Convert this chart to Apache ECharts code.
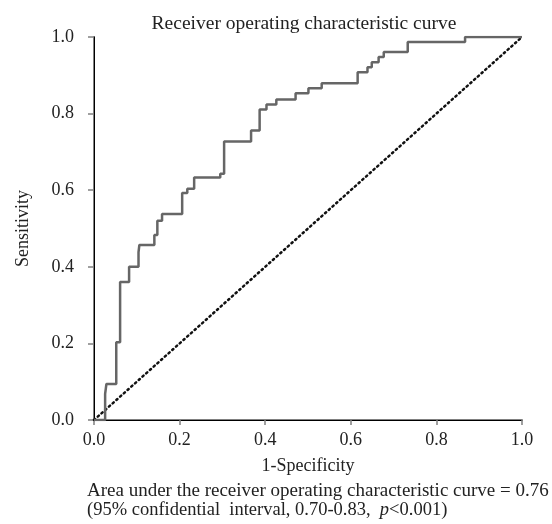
<!DOCTYPE html>
<html>
<head>
<meta charset="utf-8">
<script src="https://cdn.jsdelivr.net/npm/echarts@6/dist/echarts.min.js"></script>
<style>html,body{margin:0;padding:0;background:#fff}#c{width:552px;height:524px}</style>
</head>
<body>
<div id="c"></div>
<script>
// ROC staircase corners: [1-specificity, sensitivity]
const fpr = [0, 0.026, 0.029, 0.052, 0.061, 0.082, 0.104, 0.106, 0.141, 0.148, 0.159, 0.206, 0.218, 0.234, 0.295, 0.304,
  0.367, 0.387, 0.403, 0.426, 0.471, 0.501, 0.532, 0.616, 0.639, 0.649, 0.665, 0.677, 0.733, 0.867, 1.0];
const tpr = [0, 0.068, 0.094, 0.203, 0.36, 0.40, 0.438, 0.457, 0.483, 0.52, 0.538, 0.593, 0.604, 0.633, 0.643, 0.727,
  0.756, 0.811, 0.824, 0.837, 0.853, 0.866, 0.879, 0.908, 0.921, 0.934, 0.948, 0.961, 0.987, 1.0, 1.0];
const chance = [[0, 0], [1, 1]];

const serif = "'Liberation Serif','DejaVu Serif',serif";
const chart = echarts.init(document.getElementById('c'), null, {renderer: 'canvas'});
const lbl = {fontFamily: serif, fontSize: 18, color: '#222'};

chart.setOption({
  backgroundColor: '#fff',
  animation: false,
  title: {
    text: 'Receiver operating characteristic curve',
    left: 299, top: 9, textAlign: 'center',
    textStyle: {fontFamily: serif, fontSize: 19.5, fontWeight: 'normal', color: '#222'}
  },
  grid: {left: 94, right: 30, top: 37, bottom: 104},
  xAxis: [{
    type: 'value', min: 0, max: 1, interval: 0.2,
    name: '1-Specificity', nameLocation: 'middle', nameGap: 37,
    nameTextStyle: lbl,
    axisLine: {lineStyle: {color: '#808080', width: 2}},
    axisTick: {length: 5, lineStyle: {color: '#808080', width: 1.5}},
    axisLabel: Object.assign({margin: 11, formatter: v => v.toFixed(1)}, lbl),
    splitLine: {show: false}
  }, {
    type: 'value', position: 'top', min: 0, max: 1,
    axisLine: {show: true, lineStyle: {color: '#000', width: 1}},
    axisTick: {show: false}, axisLabel: {show: false}, splitLine: {show: false}
  }],
  yAxis: [{
    type: 'value', min: 0, max: 1, interval: 0.2,
    name: 'Sensitivity', nameLocation: 'middle', nameGap: 62,
    nameTextStyle: lbl,
    axisLine: {show: true, lineStyle: {color: '#808080', width: 2}},
    axisTick: {show: true, length: 6, lineStyle: {color: '#808080', width: 1.5}},
    axisLabel: Object.assign({margin: 20, formatter: v => v.toFixed(1)}, lbl),
    splitLine: {show: false}
  }, {
    type: 'value', position: 'right', min: 0, max: 1,
    axisLine: {show: true, lineStyle: {color: '#000', width: 1}},
    axisTick: {show: false}, axisLabel: {show: false}, splitLine: {show: false}
  }],
  series: [{
    type: 'line', data: chance, symbol: 'none', z: 3,
    lineStyle: {color: '#111', width: 2.5, type: [1.5, 3.5], cap: 'round'}
  }, {
    type: 'line', step: 'end', symbol: 'none', z: 4,
    data: fpr.map((x, i) => [x, tpr[i]]),
    lineStyle: {color: '#666', width: 2.5}
  }],
  graphic: [{
    type: 'text', left: 87, top: 482,
    style: {
      text: '{a|Area under the receiver operating characteristic curve = 0.76}\n(95% confidential  interval, 0.70-0.83,  {i|p}<0.001)',
      font: '18.5px ' + serif, fill: '#222', lineHeight: 19,
      rich: {
        a: {fontFamily: serif, fontSize: 19, fill: '#222', lineHeight: 19},
        i: {fontStyle: 'italic', fontFamily: serif, fontSize: 18.5, fill: '#222', lineHeight: 19}
      }
    }
  }]
});
</script>
</body>
</html>
